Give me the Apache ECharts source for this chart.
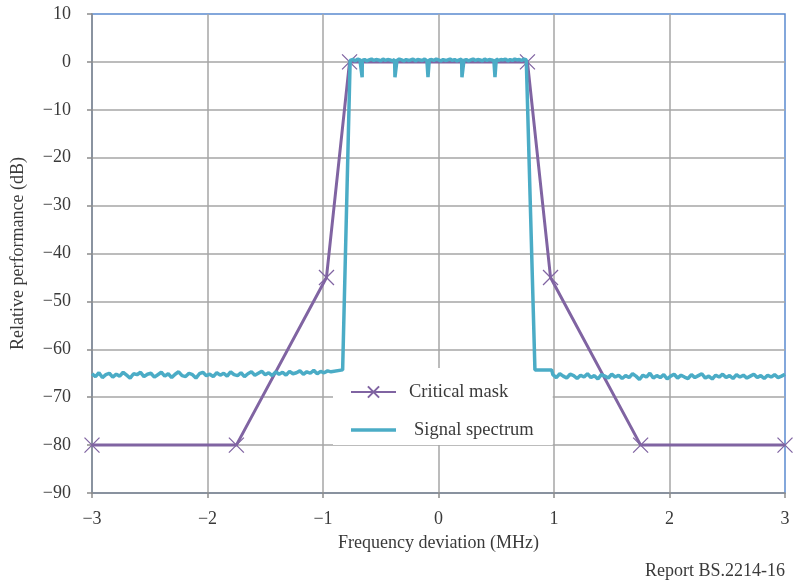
<!DOCTYPE html>
<html>
<head>
<meta charset="utf-8">
<script src="https://cdn.jsdelivr.net/npm/echarts@6/dist/echarts.min.js"></script>
<style>html,body{margin:0;padding:0;background:#fff;}#c{width:793px;height:582px;}</style>
</head>
<body>
<div id="c"></div>
<script>
// Critical mask breakpoints
const maskX = [-3, -1.75, -0.97, -0.77, 0.77, 0.97, 1.75, 3];
const maskY = [-80, -80, -45, 0, 0, -45, -80, -80];

// Signal spectrum: left noise floor sampled from -3.00 MHz every 0.03 MHz
const leftNoiseStart = -3.0, leftNoiseStep = 0.03;
const leftNoise = [
  -65.1,-65.7,-64.9,-65.9,-65.3,-65.0,-65.8,-65.2,-65.6,-64.8,
  -65.4,-66.0,-65.1,-65.3,-64.8,-65.7,-65.2,-65.0,-65.8,-65.3,
  -64.8,-65.6,-65.1,-65.9,-65.2,-64.7,-65.5,-65.7,-65.0,-65.3,
  -66.0,-65.1,-64.8,-65.5,-65.2,-65.7,-64.9,-65.4,-65.0,-65.6,
  -64.7,-65.3,-65.5,-64.9,-65.7,-65.1,-64.7,-65.4,-65.0,-64.6,
  -65.3,-64.9,-65.5,-64.7,-65.2,-64.8,-65.4,-64.6,-65.1,-64.9,
  -64.5,-65.2,-64.7,-65.0,-64.4,-65.1,-64.6,-64.9,-64.5,-64.7
];
// Left edge: shoulder then steep rise
const leftEdgeX = [-0.92, -0.83, -0.765];
const leftEdgeY = [-64.3, -64.3, 0.3];
// In-band top sampled from -0.76 MHz every 0.02 MHz
const topStart = -0.76, topStep = 0.02;
const topNoise = [
  0.3,0.5,0.2,0.6,0.4,0.3,0.5,0.2,0.4,0.6,
  0.3,0.5,0.4,0.2,0.6,0.3,0.5,0.4,0.2,0.5,
  0.3,0.6,0.4,0.2,0.5,0.3,0.4,0.6,0.2,0.5,
  0.4,0.3,0.6,0.2,0.4,0.5,0.3,0.6,0.4,0.2,
  0.5,0.3,0.4,0.6,0.3,0.5,0.2,0.4,0.6,0.3,
  0.5,0.2,0.4,0.6,0.3,0.5,0.4,0.2,0.6,0.3,
  0.5,0.4,0.2,0.6,0.3,0.5,0.4,0.6,0.2,0.5,
  0.3,0.6,0.4,0.5,0.3,0.6,0.4
];
// Pilot-like dips in the band
const spikeX = [-0.661, -0.377, -0.091, 0.203, 0.489];
const spikeY = [-3.2, -3.2, -3.2, -3.2, -3.2];
// Right edge: fall and shoulder
const rightEdgeX = [0.775, 0.835, 0.98];
const rightEdgeY = [0.3, -64.3, -64.3];
// Right noise floor sampled from 0.99 MHz every 0.03 MHz
const rightNoiseStart = 0.99, rightNoiseStep = 0.03;
const rightNoise = [
  -65.3,-65.9,-65.1,-65.6,-66.0,-65.2,-65.5,-66.1,-65.4,-65.8,
  -65.1,-65.9,-65.5,-66.2,-65.3,-65.6,-66.0,-65.2,-65.8,-65.4,
  -66.1,-65.5,-65.9,-65.1,-65.6,-66.3,-65.4,-65.8,-65.0,-66.0,
  -65.5,-65.9,-65.3,-66.2,-65.6,-65.2,-66.0,-65.4,-65.8,-66.1,
  -65.3,-65.9,-65.5,-65.1,-66.0,-65.6,-66.2,-65.4,-65.8,-65.2,
  -65.9,-65.5,-66.1,-65.3,-65.8,-65.4,-66.0,-65.6,-65.2,-65.9,
  -65.5,-66.1,-65.4,-65.8,-65.3,-65.9,-65.6,-65.2
];

const xTicks = [-3, -2, -1, 0, 1, 2, 3];
const yTicks = [-90, -80, -70, -60, -50, -40, -30, -20, -10, 0, 10];

function sampled(start, step, arr) {
  return arr.map((v, i) => [+(start + i * step).toFixed(4), v]);
}
const spectrum = []
  .concat(sampled(leftNoiseStart, leftNoiseStep, leftNoise))
  .concat(leftEdgeX.map((x, i) => [x, leftEdgeY[i]]))
  .concat(sampled(topStart, topStep, topNoise))
  .concat(spikeX.map((x, i) => [x, spikeY[i]]))
  .concat(rightEdgeX.map((x, i) => [x, rightEdgeY[i]]))
  .concat(sampled(rightNoiseStart, rightNoiseStep, rightNoise))
  .sort((a, b) => a[0] - b[0]);
const mask = maskX.map((x, i) => [x, maskY[i]]);

const FONT = '"Liberation Serif", "DejaVu Serif", serif';
const minus = v => String(v).replace('-', '\u2212');
const TXT = '#3a3a3a';

const chart = echarts.init(document.getElementById('c'), null, {renderer: 'canvas'});
chart.setOption({
  animation: false,
  backgroundColor: '#fff',
  grid: {left: 92, right: 8, top: 14, bottom: 89, show: true, borderColor: '#5B8BD0', borderWidth: 1.5, backgroundColor: 'transparent'},
  xAxis: {
    type: 'value', min: xTicks[0], max: xTicks[xTicks.length - 1], interval: 1,
    name: 'Frequency deviation (MHz)', nameLocation: 'middle', nameGap: 41,
    nameTextStyle: {fontFamily: FONT, fontSize: 18, color: TXT},
    axisLine: {show: true, onZero: false, lineStyle: {color: '#8C8C8C', width: 1.5}},
    axisTick: {show: true, length: 5, lineStyle: {color: '#8C8C8C', width: 1.5}},
    axisLabel: {fontFamily: FONT, fontSize: 18, color: TXT, margin: 17, formatter: minus},
    splitLine: {show: true, showMinLine: false, showMaxLine: false, lineStyle: {color: '#A6A6A6', width: 1.5}}
  },
  yAxis: {
    type: 'value', min: yTicks[0], max: yTicks[yTicks.length - 1], interval: 10,
    name: 'Relative performance (dB)', nameLocation: 'middle', nameGap: 65,
    nameTextStyle: {fontFamily: FONT, fontSize: 18, color: TXT},
    axisLine: {show: true, onZero: false, lineStyle: {color: '#8C8C8C', width: 1.5}},
    axisTick: {show: true, length: 5, lineStyle: {color: '#8C8C8C', width: 1.5}},
    axisLabel: {fontFamily: FONT, fontSize: 18, color: TXT, margin: 21, formatter: minus},
    splitLine: {show: true, showMinLine: false, showMaxLine: false, lineStyle: {color: '#A6A6A6', width: 1.5}}
  },
  legend: {
    orient: 'vertical', left: 333, top: 368, z: 1,
    backgroundColor: '#fff', padding: [14, 19, 5, 17],
    itemWidth: 45, itemHeight: 14, itemGap: 18,
    textStyle: {fontFamily: FONT, fontSize: 18.5, lineHeight: 20, color: TXT, padding: [0, 0, 0, 8]},
    data: [
      {name: 'Critical mask'},
      {name: 'Signal spectrum', icon: 'path://M0,0H45V3.5H0Z', textStyle: {padding: [0, 0, 0, 13]}}
    ]
  },
  series: [
    {
      name: 'Critical mask', type: 'line', data: mask,
      symbol: 'path://M0,0L10,10M10,0L0,10', symbolSize: 15,
      itemStyle: {color: '#8064A2', borderColor: '#8064A2', borderWidth: 1.3},
      lineStyle: {color: '#8064A2', width: 3}, z: 2
    },
    {
      name: 'Signal spectrum', type: 'line', data: spectrum,
      symbol: 'none', showSymbol: false,
      itemStyle: {color: '#4BACC6'},
      lineStyle: {color: '#4BACC6', width: 3.5}, z: 3
    }
  ],
  graphic: [{
    type: 'text', right: 8, top: 562,
    style: {text: 'Report BS.2214-16', font: '18px ' + FONT, fill: TXT}
  }]
});
</script>
</body>
</html>
